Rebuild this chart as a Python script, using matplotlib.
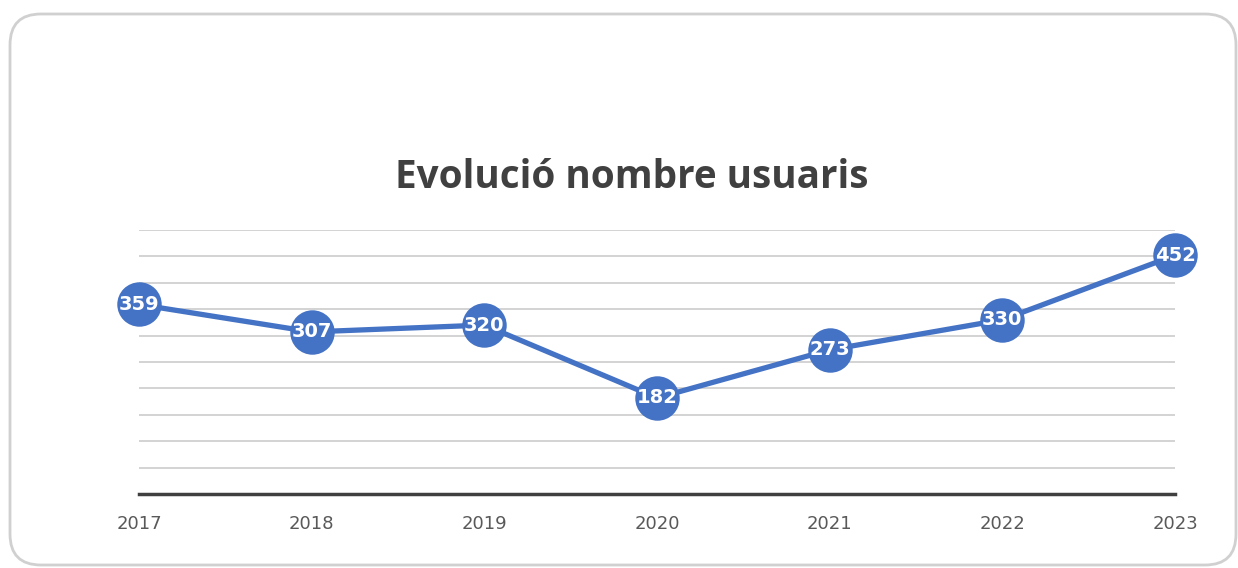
import matplotlib.pyplot as plt
from matplotlib.patches import FancyBboxPatch

years = ['2017', '2018', '2019', '2020', '2021', '2022', '2023']
usuaris = [359, 307, 320, 182, 273, 330, 452]

W, H = 1238, 568
fig = plt.figure(figsize=(W / 100, H / 100), dpi=100)
fig.patch.set_facecolor('white')

# rounded card border (top edge at y=14 px, runs to the bottom)
card = FancyBboxPatch((10 / W, 3 / H), 1226 / W, 551 / H,
                      boxstyle='round,pad=0,rounding_size=0.025',
                      transform=fig.transFigure, facecolor='none',
                      edgecolor='#d0d0d0', linewidth=2, mutation_aspect=W / H,
                      zorder=-1)
fig.patches.append(card)

# axes in pixel coords: left 139, right 1175, top 230, bottom 494
ax = fig.add_axes([139 / W, (H - 494) / H, (1175 - 139) / W, (494 - 230) / H])
ax.set_facecolor('none')

x = list(range(len(years)))
ax.set_xlim(0, len(years) - 1)
ax.set_ylim(0, 500)
ax.set_yticks(range(50, 501, 50))
ax.yaxis.grid(True, color='#d0d0d0', linewidth=1.3)
ax.set_axisbelow(True)
ax.tick_params(axis='y', left=False, labelleft=False)
ax.tick_params(axis='x', length=0, pad=15, labelsize=13, labelcolor='#595959')
ax.set_xticks(x)
ax.set_xticklabels(years)
for s in ['top', 'right', 'left']:
    ax.spines[s].set_visible(False)
ax.spines['bottom'].set_color('#404040')
ax.spines['bottom'].set_linewidth(2.5)

ax.plot(x, usuaris, color='#4472C4', linewidth=3.8, marker='o',
        markersize=32, markeredgewidth=0, clip_on=False, zorder=3)
for xi, v in zip(x, usuaris):
    ax.text(xi, v, str(v), ha='center', va='center', color='white',
            fontsize=14, fontweight='bold', zorder=4)

fig.text(632 / W, 1 - 177 / H, 'Evolució nombre usuaris', ha='center',
         va='center', fontsize=27.8, fontweight='bold', color='#404040',
         family='Open Sans')

fig.savefig('out.png', dpi=100)
